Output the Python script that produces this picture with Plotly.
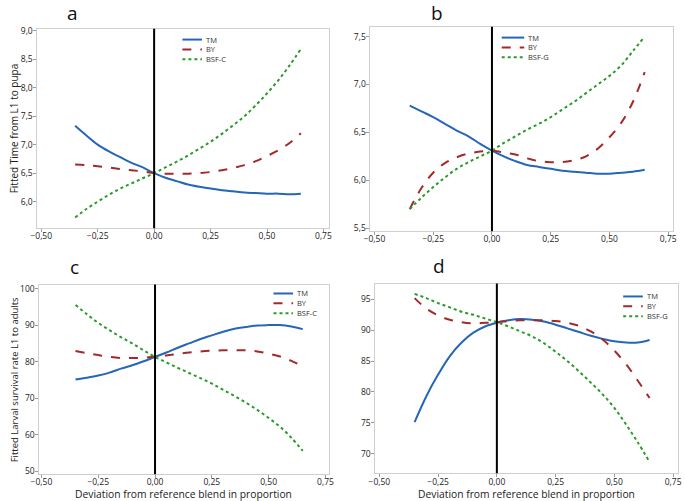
import plotly.graph_objects as go

x = [-0.35, -0.30, -0.25, -0.20, -0.15, -0.10, -0.05, 0.00, 0.05, 0.10, 0.15,
     0.20, 0.25, 0.30, 0.35, 0.40, 0.45, 0.50, 0.55, 0.60, 0.65]

a_TM = [7.33, 7.16, 7.00, 6.88, 6.78, 6.68, 6.60, 6.50, 6.42, 6.36, 6.30,
        6.26, 6.23, 6.20, 6.18, 6.16, 6.15, 6.14, 6.14, 6.13, 6.14]
a_BY = [6.65, 6.64, 6.62, 6.60, 6.57, 6.55, 6.53, 6.50, 6.49, 6.49, 6.49,
        6.50, 6.52, 6.55, 6.59, 6.64, 6.71, 6.80, 6.90, 7.03, 7.20]
a_BSF = [5.72, 5.87, 6.00, 6.12, 6.23, 6.32, 6.41, 6.50, 6.60, 6.70, 6.81,
         6.93, 7.05, 7.19, 7.34, 7.50, 7.69, 7.90, 8.13, 8.39, 8.68]

b_TM = [6.78, 6.72, 6.66, 6.59, 6.52, 6.46, 6.38, 6.31, 6.25, 6.20, 6.16,
        6.14, 6.12, 6.10, 6.09, 6.08, 6.07, 6.07, 6.08, 6.09, 6.11]
b_BY = [5.70, 5.92, 6.08, 6.18, 6.24, 6.28, 6.30, 6.31, 6.29, 6.27, 6.23,
        6.20, 6.19, 6.19, 6.21, 6.25, 6.33, 6.45, 6.60, 6.82, 7.13]
b_BSF = [5.70, 5.82, 5.93, 6.03, 6.12, 6.19, 6.25, 6.31, 6.39, 6.46, 6.53,
         6.59, 6.66, 6.74, 6.82, 6.91, 7.00, 7.09, 7.20, 7.35, 7.50]

c_TM = [75.1, 75.6, 76.2, 77.0, 78.1, 79.0, 80.1, 81.3, 82.5, 83.8, 85.0,
        86.2, 87.2, 88.2, 89.0, 89.5, 89.9, 90.0, 90.0, 89.6, 88.9]
c_BY = [82.9, 82.3, 81.8, 81.3, 81.0, 81.0, 81.1, 81.4, 81.7, 82.1, 82.5,
        82.8, 83.0, 83.1, 83.1, 83.1, 82.8, 82.2, 81.4, 80.2, 78.7]
c_BSF = [95.5, 93.0, 90.6, 88.6, 86.7, 85.0, 83.1, 81.3, 79.8, 78.3, 76.9,
         75.5, 74.0, 72.3, 70.6, 68.8, 66.8, 64.6, 62.2, 59.2, 55.6]

d_TM = [75.1, 79.3, 82.8, 85.8, 88.0, 89.6, 90.6, 91.2, 91.6, 91.8, 91.7,
        91.4, 90.9, 90.3, 89.7, 89.1, 88.6, 88.2, 88.0, 88.0, 88.4]
d_BY = [95.2, 93.5, 92.4, 91.7, 91.3, 91.1, 91.2, 91.3, 91.5, 91.6, 91.6,
        91.6, 91.5, 91.2, 90.7, 89.8, 88.5, 86.7, 84.5, 81.8, 79.0]
d_BSF = [95.9, 95.2, 94.4, 93.7, 93.0, 92.5, 91.9, 91.3, 90.6, 89.8, 89.0,
         87.9, 86.5, 85.0, 83.3, 81.5, 79.6, 77.4, 74.7, 71.8, 68.6]

x_ticks = [-0.50, -0.25, 0.00, 0.25, 0.50, 0.75]
a_yticks = [6.0, 6.5, 7.0, 7.5, 8.0, 8.5, 9.0]
b_yticks = [5.5, 6.0, 6.5, 7.0, 7.5]
c_yticks = [50, 60, 70, 80, 90, 100]
d_yticks = [70, 75, 80, 85, 90, 95]

BLUE = "#2566b8"
RED = "#a32a2a"
GREEN = "#2a9a2a"
FONT = "Open Sans"

W, H = 685, 501

def px_x(p):
    return p / W

def px_y(p):
    return 1 - p / H

panels = [
    ("a", a_TM, a_BY, a_BSF, "BSF-C", (29, 327), (25, 227), (-0.517, 0.776), (5.532, 9.035), a_yticks, ".1f"),
    ("b", b_TM, b_BY, b_BSF, "BSF-G", (369, 678), (23, 230), (-0.517, 0.771), (5.469, 7.603), b_yticks, ".1f"),
    ("c", c_TM, c_BY, c_BSF, "BSF-C", (31, 327), (284, 476), (-0.509, 0.767), (49.19, 101.08), c_yticks, "d"),
    ("d", d_TM, d_BY, d_BSF, "BSF-G", (374, 683), (283, 475), (-0.517, 0.771), (66.79, 97.56), d_yticks, "d"),
]

# legend placement: line start px, line length px, first row y px, row step px
legend_pos = [(177, 20, 36, 10), (503, 23, 34, 10), (270, 20, 293, 10), (627, 20, 296, 10)]

fig = go.Figure()
layout = dict(
    width=W, height=H,
    margin=dict(l=0, r=0, t=0, b=0),
    paper_bgcolor="white", plot_bgcolor="white",
    separators=",.",
    font=dict(family=FONT, color="#333333", size=9),
    showlegend=False,
)
shapes = []
annotations = []

for i, (name, tm, by, bsf, bsfname, xd, yd, xr, yr, yt, yfmt) in enumerate(panels):
    k = i + 1
    xa = "x" if k == 1 else f"x{k}"
    ya = "y" if k == 1 else f"y{k}"
    series = [(tm, "TM", BLUE, "solid"), (by, "BY", RED, "dash"), (bsf, bsfname, GREEN, "dot")]
    for vals, nm, col, dash in series:
        fig.add_trace(go.Scatter(
            x=x, y=vals, mode="lines", name=nm, xaxis=xa, yaxis=ya,
            line=dict(color=col, width=2, dash=dash, shape="spline"),
        ))
    axkw = dict(showline=True, mirror=True, linecolor="#cfcfcf", linewidth=1,
                showgrid=False, zeroline=False, ticks="outside", ticklen=3,
                tickcolor="#9a9a9a", tickfont=dict(size=8.5, color="#222222", family=FONT))
    layout["xaxis" if k == 1 else f"xaxis{k}"] = dict(
        domain=[px_x(xd[0]), px_x(xd[1])], range=list(xr), anchor=ya,
        tickvals=x_ticks, tickformat=".2f", ticklabelstandoff=-3, **axkw)
    layout["yaxis" if k == 1 else f"yaxis{k}"] = dict(
        domain=[px_y(yd[1]), px_y(yd[0])], range=list(yr), anchor=xa,
        tickvals=yt, tickformat=yfmt, ticklabelstandoff=-1, **axkw)
    shapes.append(dict(type="line", xref=xa, yref=f"{ya} domain", x0=0, x1=0, y0=0, y1=1,
                       line=dict(color="black", width=2)))
    # legend (drawn in paper coordinates)
    lx, ll, ly, step = legend_pos[i]
    for j, (vals, nm, col, dash) in enumerate(series):
        yy = ly + j * step
        shapes.append(dict(type="line", xref="paper", yref="paper",
                           x0=px_x(lx), x1=px_x(lx + ll), y0=px_y(yy), y1=px_y(yy),
                           line=dict(color=col, width=2, dash=dash)))
        annotations.append(dict(text=nm, x=px_x(lx + ll + 3), y=px_y(yy), xref="paper", yref="paper",
                                showarrow=False, xanchor="left", yanchor="middle", borderpad=0,
                                font=dict(size=7.5, color="#333333", family=FONT)))

labels = [("a", 65, 9), ("b", 437, 9), ("c", 67, 266), ("d", 439, 265)]
for t, lx, ly in labels:
    annotations.append(dict(text=t, x=px_x(lx), y=px_y(ly), xref="paper", yref="paper",
                            showarrow=False, font=dict(size=19, color="#111111", family=FONT),
                            xanchor="center", yanchor="middle"))

annotations.append(dict(text="Fitted Time from L1 to pupa", x=px_x(6), y=px_y(126),
                        xref="paper", yref="paper", showarrow=False, textangle=-90,
                        xanchor="center", yanchor="middle",
                        font=dict(size=10, color="#222222", family=FONT)))
annotations.append(dict(text="Fitted Larval survival rate L1 to adults", x=px_x(6), y=px_y(380),
                        xref="paper", yref="paper", showarrow=False, textangle=-90,
                        xanchor="center", yanchor="middle",
                        font=dict(size=9.5, color="#222222", family=FONT)))
annotations.append(dict(text="Deviation from reference blend in proportion", x=px_x(178), y=px_y(496),
                        xref="paper", yref="paper", showarrow=False,
                        xanchor="center", yanchor="middle",
                        font=dict(size=10.3, color="#222222", family=FONT)))
annotations.append(dict(text="Deviation from reference blend in proportion", x=px_x(528), y=px_y(496),
                        xref="paper", yref="paper", showarrow=False,
                        xanchor="center", yanchor="middle",
                        font=dict(size=10.3, color="#222222", family=FONT)))

layout["shapes"] = shapes
layout["annotations"] = annotations
fig.update_layout(**layout)
fig.write_html("out.html", config={"displayModeBar": False},
               post_script="document.body.style.margin='0';document.body.style.padding='0';")
